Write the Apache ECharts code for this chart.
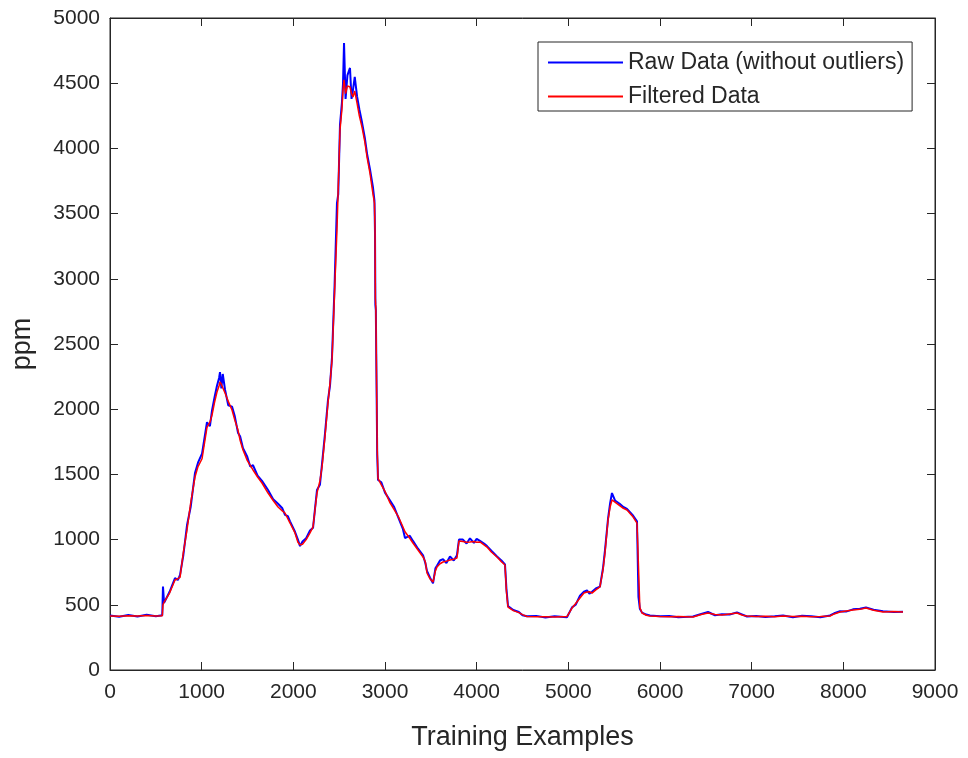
<!DOCTYPE html>
<html>
<head>
<meta charset="utf-8">
<script src="https://cdn.jsdelivr.net/npm/echarts@6/dist/echarts.min.js"></script>
<style>
    html, body { margin: 0; padding: 0; background: #fff; }
    #chart { width: 968px; height: 758px; }
</style>
</head>
<body>
<div id="chart"></div>
<script>
// Training example index (x)
var xs = [
    0, 100, 200, 300, 400, 500, 570, 578, 590, 650, 709, 740, 764, 800, 840, 880, 927, 960, 1004, 1058,
    1090, 1113, 1140, 1167, 1190, 1200, 1215, 1230, 1255, 1290, 1331, 1360, 1396, 1420, 1451, 1495, 1530, 1560, 1610, 1658,
    1724, 1780, 1833, 1880, 1909, 1940, 1964, 2018, 2050, 2073, 2100, 2140, 2182, 2215, 2240, 2258, 2290, 2313, 2345, 2378,
    2400, 2422, 2450, 2476, 2490, 2509, 2530, 2542, 2553, 2570, 2590, 2618, 2635, 2651, 2670, 2695, 2720, 2749, 2780, 2804,
    2836, 2869, 2885, 2891, 2895, 2900, 2915, 2924, 2960, 3000, 3055, 3100, 3150, 3196, 3218, 3270, 3305, 3360, 3415, 3440,
    3458, 3490, 3524, 3550, 3567, 3600, 3633, 3670, 3709, 3750, 3785, 3807, 3850, 3890, 3927, 3970, 4000, 4036, 4080, 4113,
    4160, 4222, 4270, 4309, 4325, 4342, 4400, 4460, 4500, 4549, 4650, 4750, 4850, 4985, 5040, 5080, 5127, 5170, 5204, 5230,
    5258, 5300, 5345, 5378, 5400, 5433, 5456, 5476, 5509, 5560, 5600, 5640, 5700, 5749, 5765, 5780, 5804, 5850, 5891, 6000,
    6100, 6200, 6360, 6450, 6524, 6600, 6676, 6760, 6840, 6900, 6949, 7050, 7150, 7250, 7342, 7450, 7550, 7650, 7750, 7855,
    7900, 7964, 8030, 8105, 8180, 8247, 8330, 8433, 8550, 8651
];

// Raw data (without outliers), ppm
var rawPpm = [
    418, 409, 421, 411, 423, 412, 419, 640, 515, 600, 705, 690, 730, 880, 1110, 1250, 1510, 1590, 1660, 1900,
    1870, 1990, 2090, 2180, 2240, 2285, 2160, 2270, 2150, 2030, 2020, 1950, 1820, 1790, 1700, 1640, 1560, 1570, 1490, 1450,
    1380, 1310, 1275, 1240, 1190, 1180, 1140, 1060, 1000, 950, 985, 1010, 1070, 1090, 1260, 1380, 1420, 1580, 1810, 2070,
    2180, 2400, 2950, 3581, 3650, 4180, 4350, 4500, 4808, 4380, 4560, 4617, 4380, 4450, 4548, 4400, 4300, 4200, 4080, 3960,
    3840, 3700, 3600, 3350, 2800, 2760, 1650, 1457, 1440, 1360, 1300, 1250, 1160, 1080, 1012, 1030, 990, 930, 880, 820,
    760, 710, 665, 780, 800, 840, 850, 820, 870, 840, 880, 1000, 1000, 970, 1010, 975, 1005, 990, 970, 950,
    915, 870, 840, 810, 620, 490, 460, 445, 420, 412, 415, 402, 413, 405, 480, 500, 570, 600, 610, 585,
    600, 625, 640, 780, 920, 1160, 1280, 1357, 1300, 1275, 1250, 1235, 1190, 1140, 560, 470, 440, 425, 418, 412,
    414, 405, 410, 430, 445, 420, 428, 425, 442, 425, 410, 415, 406, 412, 418, 404, 416, 413, 405, 418,
    435, 450, 448, 465, 470, 480, 462, 450, 445, 447
];

// Filtered data, ppm
var filteredPpm = [
    415, 413, 416, 414, 417, 415, 416, 500, 520, 590, 690, 700, 710, 900, 1074, 1280, 1480, 1560, 1620, 1860,
    1900, 1955, 2050, 2132, 2180, 2209, 2190, 2200, 2124, 2060, 1994, 1920, 1840, 1760, 1687, 1610, 1570, 1534, 1480, 1434,
    1357, 1300, 1250, 1220, 1204, 1160, 1127, 1051, 980, 960, 965, 1000, 1051, 1097, 1250, 1357, 1450, 1557, 1787, 2048,
    2200, 2377, 2900, 3374, 3700, 4141, 4300, 4450, 4525, 4420, 4480, 4471, 4420, 4394, 4440, 4348, 4250, 4164, 4050, 3934,
    3811, 3650, 3580, 3374, 2850, 2780, 1700, 1470, 1420, 1370, 1281, 1230, 1170, 1097, 1060, 1010, 974, 920, 867, 830,
    744, 700, 675, 760, 790, 815, 828, 835, 844, 850, 859, 990, 985, 980, 982, 985, 980, 982, 960, 943,
    905, 867, 830, 805, 600, 483, 455, 440, 425, 410, 408, 409, 407, 410, 475, 510, 552, 590, 598, 600,
    590, 615, 637, 767, 900, 1150, 1250, 1304, 1288, 1260, 1240, 1227, 1180, 1127, 800, 480, 437, 420, 414, 410,
    408, 410, 406, 425, 437, 425, 422, 430, 437, 420, 414, 410, 412, 408, 414, 410, 412, 409, 411, 414,
    430, 445, 452, 460, 465, 475, 458, 445, 448, 445
];

var xTicks = [0, 1000, 2000, 3000, 4000, 5000, 6000, 7000, 8000, 9000];
var yTicks = [0, 500, 1000, 1500, 2000, 2500, 3000, 3500, 4000, 4500, 5000];

var rawPoints = xs.map(function (x, i) { return [x, rawPpm[i]]; });
var filteredPoints = xs.map(function (x, i) { return [x, filteredPpm[i]]; });

var chart = echarts.init(document.getElementById('chart'));

var ink = '#262626';
var font = 'Liberation Sans';

// plain numbers, no thousands separator
function plain(v) { return String(v); }

var option = {
    animation: false,
    backgroundColor: '#fff',
    textStyle: { fontFamily: font },
    grid: {
        left: 110,
        right: 33,
        top: 18,
        bottom: 88,
        show: true,
        borderColor: ink,
        borderWidth: 1
    },
    legend: {
        orient: 'vertical',
        left: 538,
        top: 42,
        padding: [9, 8, 3, 10],
        itemGap: 11,
        itemWidth: 75,
        itemHeight: 2,
        icon: 'rect',
        borderColor: ink,
        borderWidth: 1,
        backgroundColor: '#fff',
        textStyle: { fontSize: 23, color: ink, fontFamily: font },
        data: ['Raw Data (without outliers)', 'Filtered Data']
    },
    xAxis: [
        {
            type: 'value',
            min: xTicks[0],
            max: xTicks[xTicks.length - 1],
            interval: 1000,
            name: 'Training Examples',
            nameLocation: 'middle',
            nameGap: 54,
            nameTextStyle: { fontSize: 27, color: ink, fontFamily: font },
            axisLine: { show: true, onZero: false, lineStyle: { color: ink } },
            axisTick: { inside: true, length: 8, lineStyle: { color: ink } },
            axisLabel: { fontSize: 21, color: ink, margin: 12, fontFamily: font, formatter: plain },
            splitLine: { show: false }
        },
        {
            type: 'value',
            position: 'top',
            min: xTicks[0],
            max: xTicks[xTicks.length - 1],
            interval: 1000,
            axisLine: { show: true, onZero: false, lineStyle: { color: ink } },
            axisTick: { inside: true, length: 8, lineStyle: { color: ink } },
            axisLabel: { show: false },
            splitLine: { show: false }
        }
    ],
    yAxis: [
        {
            type: 'value',
            min: yTicks[0],
            max: yTicks[yTicks.length - 1],
            interval: 500,
            name: 'ppm',
            nameLocation: 'middle',
            nameGap: 74,
            nameTextStyle: { fontSize: 27, color: ink, fontFamily: font },
            axisLine: { show: true, onZero: false, lineStyle: { color: ink } },
            axisTick: { show: true, inside: true, length: 8, lineStyle: { color: ink } },
            axisLabel: { fontSize: 21, color: ink, margin: 10, fontFamily: font, formatter: plain },
            splitLine: { show: false }
        },
        {
            type: 'value',
            position: 'right',
            min: yTicks[0],
            max: yTicks[yTicks.length - 1],
            interval: 500,
            axisLine: { show: true, onZero: false, lineStyle: { color: ink } },
            axisTick: { show: true, inside: true, length: 8, lineStyle: { color: ink } },
            axisLabel: { show: false },
            splitLine: { show: false }
        }
    ],
    series: [
        {
            name: 'Raw Data (without outliers)',
            type: 'line',
            data: rawPoints,
            showSymbol: false,
            color: '#0000ff',
            lineStyle: { width: 2, color: '#0000ff' },
            z: 2
        },
        {
            name: 'Filtered Data',
            type: 'line',
            data: filteredPoints,
            showSymbol: false,
            color: '#ff0000',
            lineStyle: { width: 1.5, color: '#ff0000' },
            z: 3
        }
    ]
};

chart.setOption(option);
</script>
</body>
</html>
